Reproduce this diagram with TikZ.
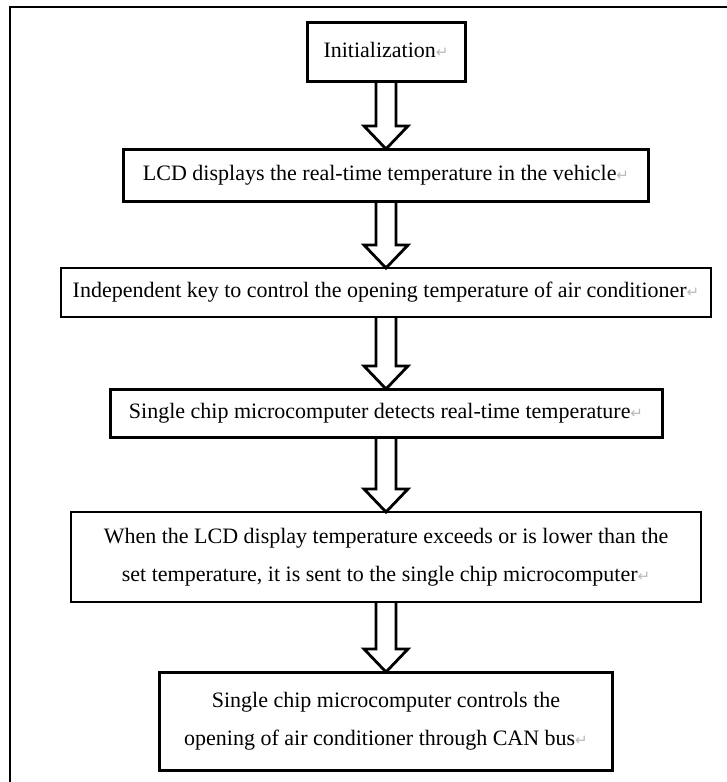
\documentclass[tikz,border=0pt]{standalone}
\usepackage{fontspec}
\setmainfont{Liberation Serif}
\newfontfamily\markfont{DejaVu Sans}
\usetikzlibrary{positioning, calc}

% Word paragraph mark after the last line of a box
\newcommand{\pmark}{{\markfont\fontsize{15}{15}\selectfont\color{gray!55}↵}}

\begin{document}
\begin{tikzpicture}[
    stepbox/.style={draw, line width=3pt, outer sep=0pt, inner sep=4pt, align=center, font=\fontsize{22}{38}\selectfont},
    hollowarrow/.style={draw, line width=2.8pt, line join=miter}
]
    \useasboundingbox (0,0) rectangle (727pt,-782pt);
    \draw[line width=2.5pt] (10pt,-782pt) -- (10pt,-7pt) -- (727pt,-7pt);

    \node[stepbox, minimum width=158pt, minimum height=59pt] (init) at (386pt,-51.5pt) {\raisebox{4pt}{Initialization\pmark}};
    \node[stepbox, minimum width=525pt, minimum height=52pt] (lcd) [below=68pt of init] {LCD displays the real-time temperature in the vehicle\pmark};
    \node[stepbox, minimum width=650pt, minimum height=49pt, line width=2.4pt] (key) [below=67pt of lcd] {Independent key to control the opening temperature of air conditioner\pmark};
    \node[stepbox, minimum width=552pt, minimum height=48pt] (detect) [below=72pt of key] {Single chip microcomputer detects real-time temperature\pmark};
    \node[stepbox, minimum width=630pt, minimum height=90pt, line width=2.4pt] (send) [below=75pt of detect] {When the LCD display temperature exceeds or is lower than the\\ set temperature, it is sent to the single chip microcomputer\pmark};
    \node[stepbox, minimum width=453pt, minimum height=98pt] (can) [below=70pt of send] {Single chip microcomputer controls the\\ opening of air conditioner through CAN bus\pmark};

    \foreach \a/\b in {init/lcd, lcd/key, key/detect, detect/send, send/can}
        \draw[hollowarrow] ($(\a.south)+(-10pt,0)$) -- ($(\b.north)+(-10pt,23pt)$) -- ++(-12pt,0) -- (\b.north)
            -- ($(\b.north)+(22pt,23pt)$) -- ++(-12pt,0) -- ($(\a.south)+(10pt,0)$);
\end{tikzpicture}
\end{document}
